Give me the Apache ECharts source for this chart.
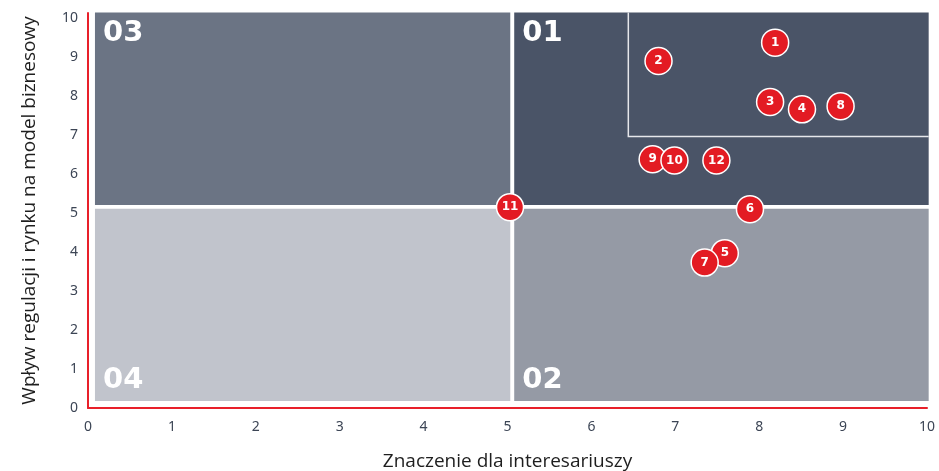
<!DOCTYPE html>
<html>
<head>
<meta charset="utf-8">
<script src="https://cdn.jsdelivr.net/npm/echarts@6/dist/echarts.min.js"></script>
<style>html,body{margin:0;padding:0;background:#fff}#c{width:939px;height:471px}</style>
</head>
<body>
<div id="c"></div>
<script>
// Data
const pointNames = ['1','2','3','4','5','6','7','8','9','10','11','12'];
const pointX = [8.19, 6.80, 8.13, 8.51, 7.59, 7.89, 7.35, 8.97, 6.73, 6.99, 5.03, 7.49];
const pointY = [9.37, 8.90, 7.85, 7.66, 3.97, 5.10, 3.73, 7.74, 6.38, 6.35, 5.15, 6.35];
const xTicks = [0,1,2,3,4,5,6,7,8,9,10];
const yTicks = [0,1,2,3,4,5,6,7,8,9,10];
// Quadrants: [xFrom, xTo, yFrom, yTo, label]
const quadrantNames = ['03','01','04','02'];
const quadrantX0 = [0.083, 5.08, 0.083, 5.08];
const quadrantX1 = [5.033, 10.02, 5.033, 10.02];
const quadrantY0 = [5.205, 5.205, 0.18, 0.18];
const quadrantY1 = [10.14, 10.14, 5.11, 5.11];
const quadrantColors = ['#6b7484', '#4a5467', '#c1c4cc', '#959aa5'];
const labelAtTop = [true, true, false, false];
// Inner highlight box (top-right region)
const innerBoxX = [6.44, 10.02];
const innerBoxY = [6.96, 10.14];

const quadData = quadrantNames.map((n, i) => [quadrantX0[i], quadrantX1[i], quadrantY0[i], quadrantY1[i], i]);

const chart = echarts.init(document.getElementById('c'), null, {renderer: 'canvas'});
const tickFont = {color: '#3c4555', fontSize: 14, fontFamily: '"Noto Sans", "Open Sans", sans-serif'};
const titleFont = {color: '#1e1e1e', fontSize: 19, fontFamily: '"Open Sans", "Noto Sans", sans-serif'};

chart.setOption({
  animation: false,
  grid: {left: 88, right: 12, top: 13, bottom: 63, containLabel: false, outerBoundsMode: 'none'},
  xAxis: {
    type: 'value', min: 0, max: 10, interval: 1,
    name: 'Znaczenie dla interesariuszy', nameLocation: 'middle', nameGap: 44,
    nameTextStyle: titleFont,
    axisLine: {show: true, lineStyle: {color: '#e8202a', width: 2}},
    axisTick: {show: false},
    splitLine: {show: false},
    axisLabel: Object.assign({margin: 12}, tickFont)
  },
  yAxis: {
    type: 'value', min: 0, max: 10.13, interval: 1,
    name: 'Wpływ regulacji i rynku na model biznesowy', nameLocation: 'middle', nameGap: 49,
    nameTextStyle: titleFont,
    axisLine: {show: true, lineStyle: {color: '#e8202a', width: 2}},
    axisTick: {show: false},
    splitLine: {show: false},
    axisLabel: Object.assign({margin: 10, showMaxLabel: false,
      formatter: v => (yTicks.indexOf(v) >= 0 ? String(v) : '')}, tickFont)
  },
  series: [
    {
      type: 'custom',
      clip: false,
      silent: true,
      z: 1,
      data: quadData,
      renderItem: function (params, api) {
        const i = api.value(4);
        const p0 = api.coord([api.value(0), api.value(3)]);
        const p1 = api.coord([api.value(1), api.value(2)]);
        const children = [{
          type: 'rect',
          shape: {x: p0[0], y: p0[1], width: p1[0] - p0[0], height: p1[1] - p0[1]},
          style: {fill: quadrantColors[i]}
        }];
        if (i === 1) {
          const b0 = api.coord([innerBoxX[0], innerBoxY[1]]);
          const b1 = api.coord([innerBoxX[1], innerBoxY[0]]);
          children.push({
            type: 'polyline',
            shape: {points: [[b0[0], b0[1]], [b0[0], b1[1]], [b1[0], b1[1]]]},
            style: {stroke: '#e6e7eb', lineWidth: 1.5, fill: null}
          });
        }
        const ty = labelAtTop[i] ? p0[1] + 21 : p1[1] - 21;
        children.push({
          type: 'text',
          style: {
            x: p0[0] + 8, y: ty,
            text: quadrantNames[i],
            fill: '#ffffff',
            font: 'bold 29px "DejaVu Sans", sans-serif',
            verticalAlign: 'middle', align: 'left'
          }
        });
        return {type: 'group', children: children};
      }
    },
    {
      type: 'scatter',
      z: 5,
      symbol: 'circle',
      symbolSize: 27,
      data: pointNames.map((n, i) => ({name: n, value: [pointX[i], pointY[i]]})),
      itemStyle: {color: '#e31b23', borderColor: '#ffffff', borderWidth: 1.5, opacity: 1},
      label: {
        show: true, position: 'inside', formatter: '{b}',
        color: '#ffffff', fontSize: 12, fontWeight: 'bold',
        fontFamily: '"DejaVu Sans", sans-serif'
      }
    }
  ]
});
</script>
</body>
</html>
